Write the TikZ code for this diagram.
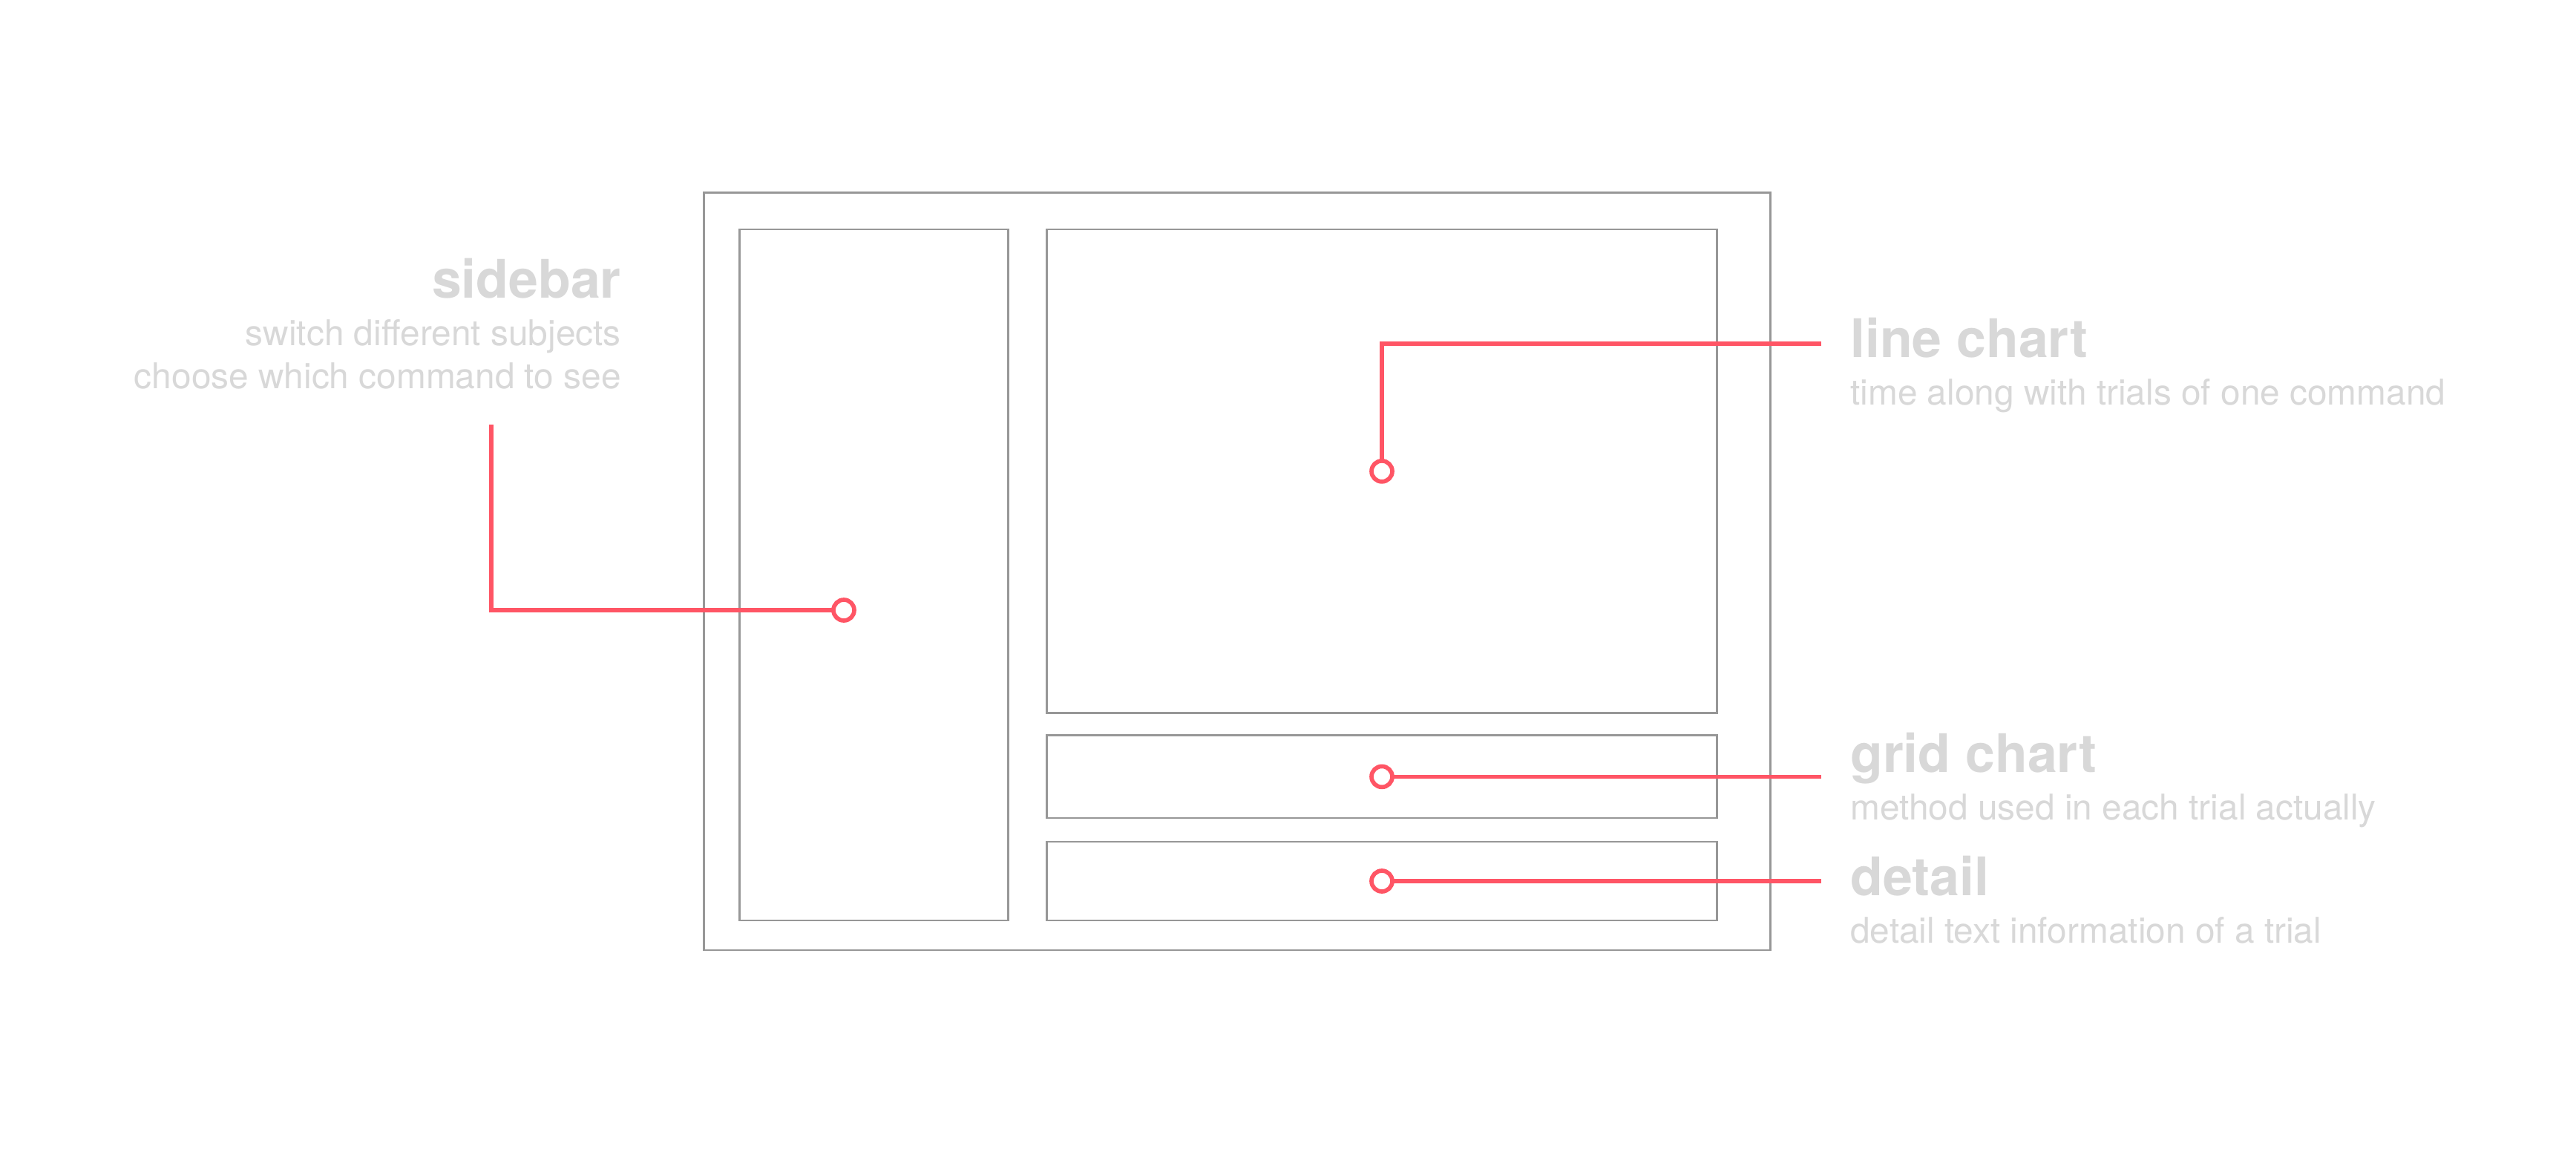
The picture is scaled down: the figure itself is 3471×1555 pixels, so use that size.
\documentclass[tikz,border=0pt]{standalone}
\usepackage{fontspec}
\setmainfont{TeX Gyre Heros}
\definecolor{boxgrey}{HTML}{979797}
\definecolor{accent}{HTML}{FF5565}
\definecolor{labelgrey}{HTML}{D8D8D8}
\begin{document}
\begin{tikzpicture}[x=0.25pt,y=-0.25pt,
  panel/.style={draw=boxgrey,line width=0.68pt,inner sep=0pt,outer sep=0pt,rectangle},
  pin/.style={circle,draw=accent,fill=white,line width=1.42pt,minimum size=7pt,inner sep=0pt,outer sep=0pt},
  leader/.style={draw=accent,line width=1.42pt,line cap=butt},
  title/.style={text=labelgrey,inner sep=0pt,font=\fontsize{17.9}{18}\selectfont\bfseries},
  sub/.style={text=labelgrey,inner sep=0pt,font=\fontsize{11.95}{12}\selectfont}]
\useasboundingbox[fill=white] (0,0) rectangle (3471,1555);
% panels
\node[panel,minimum width=359.25pt,minimum height=255.08pt] (outer) at (1666.8,769.85) {};
\node[panel,minimum width=90.5pt,minimum height=232.75pt] (sidebar) at (1177.7,774.5) {};
\node[panel,minimum width=225.65pt,minimum height=162.93pt] (linechart) at (1862,634.85) {};
\node[panel,minimum width=225.65pt,minimum height=27.83pt] (gridchart) at (1862,1046.35) {};
\node[panel,minimum width=225.65pt,minimum height=26.5pt] (detail) at (1862,1187) {};
% pins
\node[pin] (p1) at (1137,822) {};
\node[pin] (p2) at (linechart.center) {};
\node[pin] (p3) at (gridchart.center) {};
\node[pin] (p4) at (detail.center) {};
% free ends
\coordinate (e1) at (662.3,571.7);
\coordinate (e2) at (2453.7,462.7);
\coordinate (e3) at (2454,1046.35);
\coordinate (e4) at (2454,1187);
% leaders
\draw[leader] (p1.west) -| (e1);
\draw[leader] (p2.north) |- (e2);
\draw[leader] (p3.east) -- (e3);
\draw[leader] (p4.east) -- (e4);
% labels
\node[title,anchor=base east] (t1) at (837.5,401.7) {sidebar};
\node[sub,anchor=base east] (s1a) at (837.5,465.7) {switch different subjects};
\node[sub,anchor=base east] (s1b) at (837.5,523.3) {choose which command to see};
\node[title,anchor=base west] (t2) at (2492.5,481.7) {line chart};
\node[sub,anchor=base west] (s2) at (2492.5,545.7) {time along with trials of one command};
\node[title,anchor=base west] (t3) at (2492.5,1040.7) {grid chart};
\node[sub,anchor=base west] (s3) at (2492.5,1104.3) {method used in each trial actually};
\node[title,anchor=base west] (t4) at (2492.5,1206) {detail};
\node[sub,anchor=base west] (s4) at (2492.5,1270) {detail text information of a trial};
\end{tikzpicture}
\end{document}
